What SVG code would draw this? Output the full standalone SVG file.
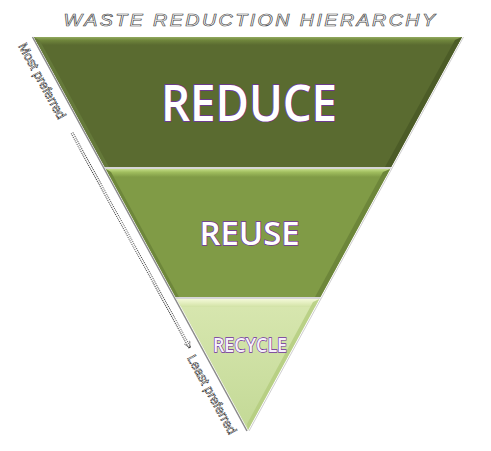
<svg xmlns="http://www.w3.org/2000/svg" width="491" height="451" viewBox="0 0 491 451">
<defs>
<style>
.lbl{font-family:"Open Sans","Liberation Sans",sans-serif;font-weight:600;fill:#ffffff;stroke:#7030a0;stroke-width:1.4;paint-order:stroke;text-anchor:middle}
.rc{font-family:"Open Sans","Liberation Sans",sans-serif;font-weight:600;fill:#f6f0fb;stroke:#7030a0;stroke-width:1.3;paint-order:stroke;text-anchor:middle}
.title{font-family:"Liberation Sans",sans-serif;font-style:italic;font-size:16px;fill:#ffffff;stroke:#444;stroke-width:0.6;letter-spacing:2px}
.side{font-family:"Liberation Sans",sans-serif;font-size:13px;fill:#ffffff;stroke:#222;stroke-width:0.8;stroke-dasharray:1 0.6}
</style>
<linearGradient id="gTop1" x1="0" y1="0" x2="0" y2="1"><stop offset="0" stop-color="#93ab5f"/><stop offset="0.4" stop-color="#70863c"/><stop offset="1" stop-color="#5a6b30"/></linearGradient>
<linearGradient id="gTop2" x1="0" y1="0" x2="0" y2="1"><stop offset="0" stop-color="#c3dc87"/><stop offset="0.4" stop-color="#a0bd5e"/><stop offset="1" stop-color="#809b46"/></linearGradient>
<linearGradient id="gTop3" x1="0" y1="0" x2="0" y2="1"><stop offset="0" stop-color="#f3f8d8"/><stop offset="0.5" stop-color="#e3eebe"/><stop offset="1" stop-color="#d1e2a6"/></linearGradient>
<linearGradient id="gRec" x1="0" y1="0" x2="0" y2="1"><stop offset="0" stop-color="#d8e7b0"/><stop offset="1" stop-color="#c3d996"/></linearGradient>
<marker id="ah" viewBox="0 0 10 10" refX="9" refY="5" markerWidth="8" markerHeight="8" orient="auto" markerUnits="userSpaceOnUse"><path d="M1,1 L9,5 L1,9" fill="none" stroke="#333" stroke-width="1" stroke-dasharray="1 0.7"/></marker>
</defs>
<rect width="491" height="451" fill="#ffffff"/>
<text class="title" x="250.5" y="26" text-anchor="middle" textLength="374" lengthAdjust="spacingAndGlyphs">WASTE REDUCTION HIERARCHY</text>
<g id="outline">
<line x1="32.5" y1="37" x2="247" y2="431" stroke="#8a8a8a" stroke-width="1.5"/>
<line x1="463.5" y1="37" x2="249" y2="431" stroke="#cfcfcf" stroke-width="1"/>
</g>
<g id="reduce">
<polygon points="34,37 462,37 391.2,167 104.8,167" fill="#5a6b30"/>
<polygon points="34,37 462,37 457.6,45 38.4,45" fill="url(#gTop1)"/>
<polygon points="462,37 391.2,167 385,167 455,40" fill="#4c5c27"/>
<polygon points="34,37 104.8,167 109,167 40,41" fill="#65793a"/>
<text class="lbl" x="249" y="121" font-size="50" textLength="176" lengthAdjust="spacingAndGlyphs">REDUCE</text>
</g>
<line x1="104.8" y1="168" x2="391.2" y2="168" stroke="#c8c8c8" stroke-width="1.5"/>
<g id="reuse">
<polygon points="105.9,169 390.1,169 320.4,297 175.6,297" fill="#809b46"/>
<polygon points="105.9,169 390.1,169 385.7,177 110.3,177" fill="url(#gTop2)"/>
<polygon points="390.1,169 320.4,297 315,297 383,172" fill="#6d863a"/>
<polygon points="105.9,169 175.6,297 179,297 111,172" fill="#6e873b"/>
<text class="lbl" x="249.5" y="245" font-size="32" textLength="100" lengthAdjust="spacingAndGlyphs">REUSE</text>
</g>
<line x1="175.6" y1="298" x2="320.4" y2="298" stroke="#c8c8c8" stroke-width="1.5"/>
<g id="recycle">
<polygon points="176.7,299 319.3,299 248,430" fill="url(#gRec)"/>
<polygon points="176.7,299 319.3,299 314.9,307 181.1,307" fill="url(#gTop3)"/>
<polygon points="319.3,299 248,430 247,424 313,302" fill="#b3cc7d" opacity="0.8"/>
<text class="rc" x="250" y="352" font-size="20" textLength="74" lengthAdjust="spacingAndGlyphs">RECYCLE</text>
</g>
<g id="connectors">
<line x1="72" y1="133" x2="190" y2="348" stroke="#333" stroke-width="3" stroke-dasharray="1 1" marker-end="url(#ah)"/>
<line x1="72" y1="133" x2="189" y2="346" stroke="#ffffff" stroke-width="1.2"/>
</g>
<g id="most">
<text class="side" transform="translate(18,46) rotate(61.4)">Most preferred</text>
</g>
<g id="least">
<text class="side" transform="translate(187,358) rotate(61.4)">Least preferred</text>
</g>
</svg>
